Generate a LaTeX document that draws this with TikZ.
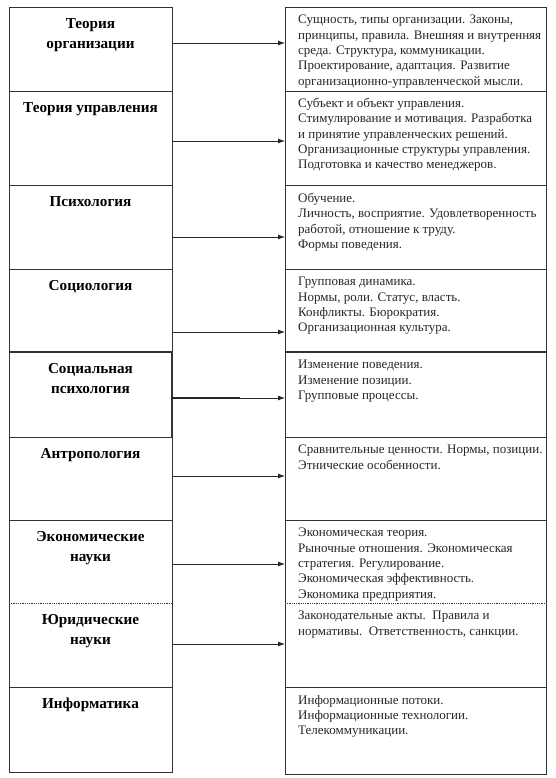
\documentclass[tikz,border=0pt]{standalone}
\usepackage{fontspec}
\setmainfont{Liberation Serif}
\usetikzlibrary{arrows.meta}
\begin{document}
\begin{tikzpicture}[x=1pt,y=-1pt,
  cell/.style={draw=none,inner sep=0pt,outer sep=0pt,anchor=north west},
  frame/.style={draw=black!80,line width=0.8pt},
  title/.style={font=\fontsize{15.2}{20}\selectfont\bfseries,align=center,anchor=north,inner sep=0pt},
  body/.style={font=\fontsize{13}{15.3}\selectfont,align=left,anchor=north west,inner sep=0pt,text=black!85},
  arr/.style={draw=black!85,line width=0.8pt,-{Latex[length=7pt,width=5pt]}}]
\useasboundingbox (0,0) rectangle (555,778);
% left cells
\node[cell,minimum width=163pt,minimum height=84pt] (L1) at (9,7) {};
\node[cell,minimum width=163pt,minimum height=94pt] (L2) at (9,91) {};
\node[cell,minimum width=163pt,minimum height=84pt] (L3) at (9,185) {};
\node[cell,minimum width=163pt,minimum height=83pt] (L4) at (9,269) {};
\node[cell,minimum width=163pt,minimum height=85pt] (L5) at (9,352) {};
\node[cell,minimum width=163pt,minimum height=83pt] (L6) at (9,437) {};
\node[cell,minimum width=163pt,minimum height=83pt] (L7) at (9,520) {};
\node[cell,minimum width=163pt,minimum height=84pt] (L8) at (9,603) {};
\node[cell,minimum width=163pt,minimum height=85pt] (L9) at (9,687) {};
% right cells
\node[cell,minimum width=261pt,minimum height=84pt] (R1) at (285,7) {};
\node[cell,minimum width=261pt,minimum height=94pt] (R2) at (285,91) {};
\node[cell,minimum width=261pt,minimum height=84pt] (R3) at (285,185) {};
\node[cell,minimum width=261pt,minimum height=83pt] (R4) at (285,269) {};
\node[cell,minimum width=261pt,minimum height=85pt] (R5) at (285,352) {};
\node[cell,minimum width=261pt,minimum height=83pt] (R6) at (285,437) {};
\node[cell,minimum width=261pt,minimum height=83pt] (R7) at (285,520) {};
\node[cell,minimum width=261pt,minimum height=84pt] (R8) at (285,603) {};
\node[cell,minimum width=261pt,minimum height=87pt] (R9) at (285,687) {};
% frames
\draw[frame] (L1.north west) rectangle (L9.south east);
\draw[frame] (R1.north west) rectangle (R9.south east);
\foreach \k in {1,2,3,5,6,8}{
  \draw[frame] (L\k.south west) -- (L\k.south east);
  \draw[frame] (R\k.south west) -- (R\k.south east);
}
\draw[frame,line width=1.2pt] (L4.south west) -- (L4.south east);
\draw[frame,line width=1.1pt] (R4.south west) -- (R4.south east);
\draw[frame,line width=1.3pt] (L5.north east) -- (L5.south east);
\draw[frame,densely dotted,line width=1pt] (L7.south west) -- (L7.south east);
\draw[frame,densely dotted,line width=1pt] (R7.south west) -- (R7.south east);
% titles
\node[title] (T1) at ([yshift=-11pt]L1.north) {Теория\\организации};
\node[title] (T2) at ([yshift=-11pt]L2.north) {Теория управления};
\node[title] (T3) at ([yshift=-11pt]L3.north) {Психология};
\node[title] (T4) at ([yshift=-11pt]L4.north) {Социология};
\node[title] (T5) at ([yshift=-11pt]L5.north) {Социальная\\психология};
\node[title] (T6) at ([yshift=-11pt]L6.north) {Антропология};
\node[title] (T7) at ([yshift=-11pt]L7.north) {Экономические\\науки};
\node[title] (T8) at ([yshift=-11pt]L8.north) {Юридические\\науки};
\node[title] (T9) at ([yshift=-11pt]L9.north) {Информатика};
% bodies
\node[body] (B1) at ([shift={(13pt,-8pt)}]R1.north west) {Сущность, типы организации. Законы,\\принципы, правила. Внешняя и внутренняя\\среда. Структура, коммуникации.\\Проектирование, адаптация. Развитие\\организационно-управленческой мысли.};
\node[body] (B2) at ([shift={(13pt,-7pt)}]R2.north west) {Субъект и объект управления.\\Стимулирование и мотивация. Разработка\\и принятие управленческих решений.\\Организационные структуры управления.\\Подготовка и качество менеджеров.};
\node[body] (B3) at ([shift={(13pt,-8pt)}]R3.north west) {Обучение.\\Личность, восприятие. Удовлетворенность\\работой, отношение к труду.\\Формы поведения.};
\node[body] (B4) at ([shift={(13pt,-8pt)}]R4.north west) {Групповая динамика.\\Нормы, роли. Статус, власть.\\Конфликты. Бюрократия.\\Организационная культура.};
\node[body] (B5) at ([shift={(13pt,-8pt)}]R5.north west) {Изменение поведения.\\Изменение позиции.\\Групповые процессы.};
\node[body] (B6) at ([shift={(13pt,-8pt)}]R6.north west) {Сравнительные ценности. Нормы, позиции.\\Этнические особенности.};
\node[body] (B7) at ([shift={(13pt,-8pt)}]R7.north west) {Экономическая теория.\\Рыночные отношения. Экономическая\\стратегия. Регулирование.\\Экономическая эффективность.\\Экономика предприятия.};
\node[body] (B8) at ([shift={(13pt,-8pt)}]R8.north west) {Законодательные акты.\ \ Правила и\\нормативы.\ \ Ответственность, санкции.};
\node[body] (B9) at ([shift={(13pt,-8pt)}]R9.north west) {Информационные потоки.\\Информационные технологии.\\Телекоммуникации.};
% arrows
\coordinate (a1) at (172,43);
\coordinate (a2) at (172,141);
\coordinate (a3) at (172,237);
\coordinate (a4) at (172,332);
\coordinate (a5) at (172,398);
\coordinate (a6) at (172,476);
\coordinate (a7) at (172,564);
\coordinate (a8) at (172,644);
\coordinate (m5) at (240,398);
\draw[arr] (a1) -- (a1 -| R1.west);
\draw[arr] (a2) -- (a2 -| R2.west);
\draw[arr] (a3) -- (a3 -| R3.west);
\draw[arr] (a4) -- (a4 -| R4.west);
\draw[arr] (a5) -- (a5 -| R5.west);
\draw[draw=black!85,line width=1.3pt] (a5) -- (m5);
\draw[arr] (a6) -- (a6 -| R6.west);
\draw[arr] (a7) -- (a7 -| R7.west);
\draw[arr] (a8) -- (a8 -| R8.west);
\end{tikzpicture}
\end{document}
